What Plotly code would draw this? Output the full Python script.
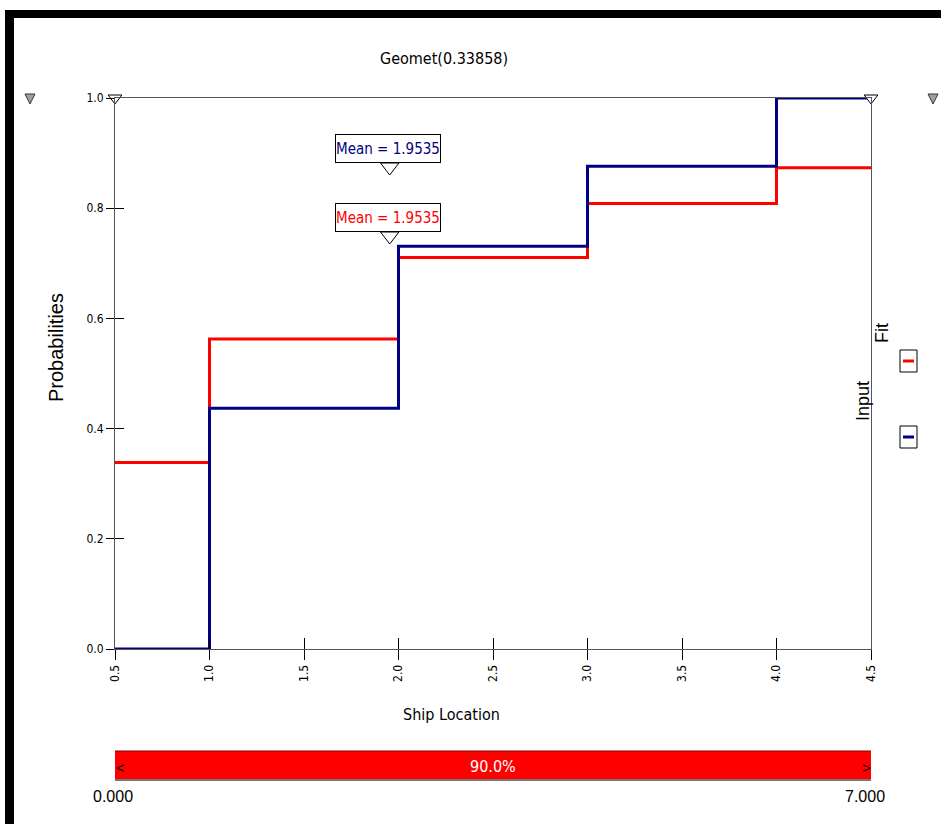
import plotly.graph_objects as go

# ---- data ----
x_steps = [0.5, 1.0, 2.0, 3.0, 4.0]
x_end = 4.5
input_cdf = [0.0, 0.437, 0.731, 0.876, 1.0]
fit_cdf = [0.3386, 0.5625, 0.7107, 0.8086, 0.8734]
mean_input = 1.9535
mean_fit = 1.9535
title_text = "Geomet(0.33858)"
x_ticks = [0.5, 1.0, 1.5, 2.0, 2.5, 3.0, 3.5, 4.0, 4.5]
y_ticks = [0.0, 0.2, 0.4, 0.6, 0.8, 1.0]
slider_low, slider_high, slider_pct = "0.000", "7.000", "90.0%"

NARROW = "DejaVu Sans Condensed, Liberation Sans Narrow, Arial Narrow, Liberation Sans"
REG = "Liberation Sans, Arial"
W, H = 941, 824
L, R, T, B = 115, 871, 98, 649
PW, PH = R - L, B - T

def px(xp):
    return (xp - L) / PW

def py(yp):
    return (B - yp) / PH

fig = go.Figure()
xs = x_steps + [x_end]
fig.add_trace(go.Scatter(x=xs, y=fit_cdf + [fit_cdf[-1]], mode="lines", line_shape="hv",
                         line=dict(color="#ff0000", width=3), name="Fit", cliponaxis=False))
fig.add_trace(go.Scatter(x=xs, y=input_cdf + [input_cdf[-1]], mode="lines", line_shape="hv",
                         line=dict(color="#000080", width=3), name="Input", cliponaxis=False))
# mean markers (hollow down triangles)
fig.add_trace(go.Scatter(x=[mean_input, mean_fit], y=[py(167), py(236)], mode="markers",
                         marker=dict(symbol="triangle-down", size=16, color="white",
                                     line=dict(color="black", width=1)), cliponaxis=False))
# corner triangles
fig.add_trace(go.Scatter(x=[x_steps[0], x_end], y=[1.0, 1.0], mode="markers",
                         marker=dict(symbol="triangle-down", size=12, color="white",
                                     line=dict(color="black", width=1)), cliponaxis=False))

axis_common = dict(showgrid=False, zeroline=False, showline=True, mirror=True,
                   linecolor="#555555", linewidth=1)
fig.update_layout(
    width=W, height=H, showlegend=False,
    plot_bgcolor="white", paper_bgcolor="white",
    margin=dict(l=L, r=W - R, t=T, b=H - B, autoexpand=False),
    xaxis=dict(range=[x_steps[0], x_end], tickvals=x_ticks, ticktext=[f"{v:.1f}" for v in x_ticks],
               tickangle=-90, ticks="outside", ticklen=10, tickcolor="black",
               tickfont=dict(family=NARROW, size=12, color="black"), **axis_common),
    yaxis=dict(range=[0, 1], tickvals=y_ticks, ticktext=[f"{v:.1f}" for v in y_ticks],
               ticks="outside", ticklen=8, tickcolor="black",
               tickfont=dict(family=NARROW, size=12, color="black"), **axis_common),
    xaxis2=dict(range=[x_steps[0], x_end], overlaying="x", tickvals=x_ticks, ticks="inside",
                ticklen=11, tickcolor="black", showticklabels=False, showgrid=False,
                zeroline=False, showline=False),
    yaxis2=dict(range=[0, 1], overlaying="y", tickvals=y_ticks, ticks="inside",
                ticklen=9, tickcolor="black", showticklabels=False, showgrid=False,
                zeroline=False, showline=False),
)
fig.add_trace(go.Scatter(x=[None], y=[None], xaxis="x2", yaxis="y2", showlegend=False))

def note(text, xp, yp, fam, size, color, angle=0, xref="paper", xval=None, **kw):
    d = dict(text=text, x=(xval if xval is not None else px(xp)), y=py(yp), xref=xref, yref="paper",
             showarrow=False, xanchor="center", yanchor="middle", textangle=angle,
             font=dict(family=fam, size=size, color=color))
    d.update(kw)
    return d

ann = [
    note(title_text, 444, 58, NARROW, 16, "black"),
    note("Ship Location", 451, 714, NARROW, 16, "black"),
    note("Probabilities", 56, 348, REG, 20, "black", angle=-90),
    note(f"Mean = {mean_input}", 0, 148.5, NARROW, 15, "#000080", xref="x", xval=mean_input - 0.011,
         bgcolor="white", bordercolor="black", borderwidth=1, borderpad=0, width=104, height=27),
    note(f"Mean = {mean_fit}", 0, 217.5, NARROW, 15, "#ff0000", xref="x", xval=mean_fit - 0.011,
         bgcolor="white", bordercolor="black", borderwidth=1, borderpad=0, width=104, height=27),
    note("Fit", 882, 333, REG, 18, "black", angle=-90),
    note("Input", 863, 401, REG, 18, "black", angle=-90),
    note(slider_pct, 493, 766, NARROW, 16, "white"),
    note("<", 120, 767, REG, 15, "black"),
    note(">", 866, 767, REG, 15, "black"),
    note(slider_low, 113, 796, REG, 16, "black"),
    note(slider_high, 865, 796, REG, 16, "black"),
]
fig.update_layout(annotations=ann)

shapes = []
def rect(x0, y0, x1, y1, fill, line_color=None, lw=0):
    shapes.append(dict(type="rect", xref="paper", yref="paper", x0=px(x0), x1=px(x1), y0=py(y1), y1=py(y0),
                       fillcolor=fill, line=dict(color=line_color or fill, width=lw), layer="above"))

# outer frame
rect(5, 10, 14, H + 5, "black")
rect(5, 10, W + 5, 18, "black")
# slider bar
rect(115, 751, 871, 779, "#ff0000", "#ff0000", 0)
shapes.append(dict(type="line", xref="paper", yref="paper", x0=px(115), x1=px(871), y0=py(751), y1=py(751),
                   line=dict(color="#800000", width=1)))
shapes.append(dict(type="line", xref="paper", yref="paper", x0=px(115), x1=px(871), y0=py(780), y1=py(780),
                   line=dict(color="#777777", width=2)))
# legend boxes
rect(900, 350, 917, 372, "white", "black", 1)
shapes.append(dict(type="line", xref="paper", yref="paper", x0=px(903), x1=px(914), y0=py(361), y1=py(361),
                   line=dict(color="#ff0000", width=3)))
rect(900, 426, 917, 448, "white", "black", 1)
shapes.append(dict(type="line", xref="paper", yref="paper", x0=px(903), x1=px(914), y0=py(437), y1=py(437),
                   line=dict(color="#000080", width=3)))
# grey outside triangles
for cx in (30, 933):
    path = f"M {px(cx-5)},{py(94)} L {px(cx+5)},{py(94)} L {px(cx)},{py(104)} Z"
    shapes.append(dict(type="path", xref="paper", yref="paper", path=path,
                       fillcolor="#a0a0a0", line=dict(color="#333333", width=1)))
fig.update_layout(shapes=shapes)

fig.write_html("out.html")
